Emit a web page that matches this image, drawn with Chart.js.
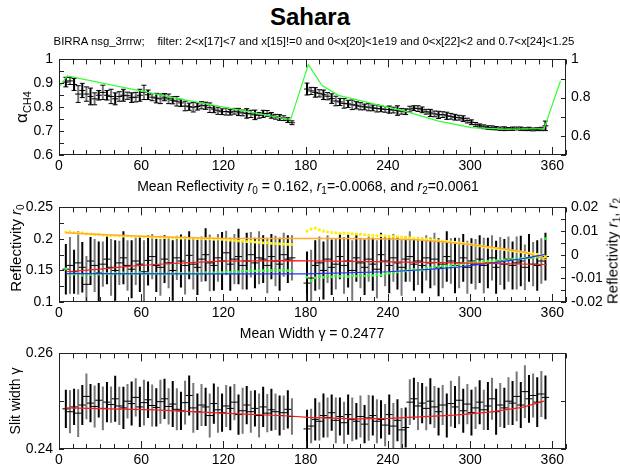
<!DOCTYPE html>
<html><head><meta charset="utf-8">
<script src="https://cdn.jsdelivr.net/npm/chart.js@4.4.0/dist/chart.umd.min.js"></script>
<style>
html,body{margin:0;padding:0;background:#fff;}
body{width:620px;height:465px;position:relative;overflow:hidden;font-family:"Liberation Sans",Arial,Helvetica,sans-serif;color:#000;}
canvas{position:absolute;left:0;}
.t{position:absolute;white-space:nowrap;line-height:1;}
.c{transform:translate(-50%,-50%);}
.r{transform:translate(-50%,-50%) rotate(-90deg);}
sub{font-size:10px;vertical-align:-3px;line-height:0;}
</style></head><body>
<canvas id="c1" width="620" height="130" style="top:45px"></canvas>
<canvas id="c2" width="620" height="127" style="top:193px"></canvas>
<canvas id="c3" width="620" height="126" style="top:339px"></canvas>
<div class="t c" style="left:310px;top:17px;font-size:24px;font-weight:bold;">Sahara</div>
<div class="t c" style="left:314px;top:42px;font-size:11.4px;">BIRRA nsg_3rrrw;&nbsp;&nbsp;&nbsp; filter: 2&lt;x[17]&lt;7 and x[15]!=0 and 0&lt;x[20]&lt;1e19 and 0&lt;x[22]&lt;2 and 0.7&lt;x[24]&lt;1.25</div>
<div class="t c" style="left:308px;top:186px;font-size:14px;">Mean Reflectivity <i>r</i><sub>0</sub> = 0.162, <i>r</i><sub>1</sub>=-0.0068, and <i>r</i><sub>2</sub>=0.0061</div>
<div class="t c" style="left:312px;top:333px;font-size:14px;">Mean Width γ = 0.2477</div>
<div class="t r" style="left:21px;top:107px;"><span style="font-size:17px">α</span><sub style="font-size:11px;vertical-align:-4px">CH4</sub></div>
<div class="t r" style="left:15px;top:248px;font-size:15px;">Reflectivity <i>r</i><sub>0</sub></div>
<div class="t r" style="left:612px;top:251px;font-size:15px;">Reflectivity <i>r</i><sub>1</sub>, <i>r</i><sub>2</sub></div>
<div class="t r" style="left:15px;top:401px;font-size:14px;">Slit width γ</div>
<script>
// ---------- data ----------
const LON = [5,8,11,14,17,20,23,26,29,32,35,38,41,44,47,50,53,56,59,62,65,68,71,74,77,80,83,86,89,92,95,98,101,104,107,110,113,116,119,122,125,128,131,134,137,140,143,146,149,152,155,158,161,164,167,170,
181,184,187,190,193,196,199,202,205,208,211,214,217,220,223,226,229,232,235,238,241,244,247,250,253,256,259,262,265,268,271,274,277,280,283,286,289,292,295,298,301,304,307,310,313,316,319,322,325,328,331,334,337,340,343,346,349,352,355];

const ALPHA = [.905,.910,.895,.855,.870,.855,.845,.835,.850,.862,.850,.845,.835,.845,.850,.848,.840,.842,.850,.862,.852,.842,.838,.835,.842,.835,.829,.825,.818,.805,.802,.800,.803,.808,.806,.798,.792,.785,.781,.782,.779,.783,.780,.776,.774,.772,.768,.766,.772,.774,.766,.760,.757,.754,.746,.735,
.876,.868,.862,.858,.852,.846,.836,.826,.822,.816,.814,.810,.808,.804,.801,.800,.797,.795,.793,.791,.790,.788,.786,.783,.781,.792,.796,.794,.789,.781,.776,.772,.768,.769,.764,.762,.758,.756,.752,.744,.737,.728,.722,.718,.715,.714,.712,.710,.710,.709,.710,.711,.710,.708,.709,.707,.708,.709,.722];
const ALPHA_ERR = [.02,.015,.025,.035,.03,.03,.035,.025,.02,.03,.02,.03,.025,.02,.025,.015,.02,.02,.025,.03,.02,.015,.02,.02,.015,.02,.015,.02,.015,.02,.015,.02,.015,.015,.015,.02,.015,.015,.012,.015,.012,.012,.015,.012,.02,.015,.02,.012,.015,.012,.012,.01,.012,.01,.01,.008,
.025,.015,.02,.015,.02,.015,.02,.02,.015,.02,.015,.02,.015,.015,.012,.015,.012,.015,.012,.012,.015,.012,.02,.012,.012,.012,.01,.012,.012,.01,.015,.012,.015,.012,.015,.012,.012,.01,.012,.01,.01,.008,.008,.008,.007,.008,.007,.007,.008,.006,.007,.006,.007,.006,.007,.006,.006,.007,.02];
const MODEL_LON = [0,6,87,169,182,192,204,228,253,277,301,326,354,366];
const MODEL_ALPHA = [.855,.914,.795,.685,.973,.863,.812,.770,.728,.677,.643,.635,.638,.888];

const R0 = [.152,.158,.148,.162,.155,.128,.165,.158,.146,.160,.168,.155,.150,.162,.170,.158,.152,.165,.160,.148,.166,.172,.158,.155,.168,.162,.150,.170,.165,.158,.174,.160,.155,.168,.175,.162,.158,.170,.165,.178,.160,.168,.172,.158,.165,.175,.162,.170,.168,.158,.172,.165,.160,.175,.168,.170,
.130,.138,.158,.162,.150,.168,.155,.160,.172,.158,.165,.150,.170,.162,.155,.168,.160,.152,.175,.165,.158,.170,.162,.155,.168,.172,.160,.165,.158,.170,.162,.168,.155,.160,.172,.165,.158,.162,.170,.155,.165,.160,.168,.158,.162,.170,.155,.165,.160,.168,.158,.162,.165,.155,.170,.160,.158,.165,.172];
const R0_ERR = [.04,.045,.035,.05,.04,.045,.038,.042,.05,.036,.04,.045,.048,.035,.042,.04,.046,.038,.044,.05,.04,.036,.042,.045,.038,.04,.048,.035,.042,.046,.038,.04,.044,.036,.042,.045,.04,.038,.046,.035,.042,.04,.044,.038,.045,.036,.04,.042,.038,.044,.036,.04,.042,.035,.038,.036,
.05,.045,.04,.042,.046,.038,.044,.04,.036,.045,.042,.048,.038,.04,.044,.036,.042,.046,.035,.04,.044,.038,.042,.045,.036,.04,.042,.038,.044,.036,.04,.042,.046,.038,.04,.036,.044,.04,.038,.042,.036,.04,.038,.044,.04,.036,.042,.038,.04,.036,.038,.042,.04,.036,.038,.035,.04,.036,.038];
const R1 = [-.0060,-.0085,-.0082,-.0078,-.0088,-.0080,-.0084,-.0079,-.0082,-.0076,-.0080,-.0083,-.0078,-.0081,-.0077,-.0082,-.0079,-.0080,-.0076,-.0083,-.0078,-.0081,-.0079,-.0077,-.0082,-.0078,-.0080,-.0076,-.0079,-.0081,-.0077,-.0080,-.0078,-.0082,-.0076,-.0079,-.0077,-.0074,-.0076,-.0072,-.0075,-.0071,-.0073,-.0069,-.0070,-.0067,-.0069,-.0066,-.0068,-.0065,-.0067,-.0064,-.0066,-.0065,-.0067,-.0068,
-.0095,-.0110,-.0098,-.0092,-.0096,-.0090,-.0094,-.0088,-.0092,-.0089,-.0093,-.0088,-.0091,-.0087,-.0090,-.0086,-.0088,-.0084,-.0085,-.0080,-.0078,-.0075,-.0073,-.0070,-.0068,-.0066,-.0063,-.0064,-.0064,-.0058,-.0056,-.0053,-.0051,-.0048,-.0047,-.0046,-.0046,-.0040,-.0038,-.0036,-.0034,-.0033,-.0031,-.0030,-.0028,-.0027,-.0025,-.0024,-.0022,-.0021,-.0019,-.0018,-.0016,-.0015,-.0013,-.0012,-.0010,-.0008,.0068];
const R2 = [.0095,.0098,.0093,.0090,.0092,.0088,.0087,.0085,.0086,.0083,.0082,.0080,.0081,.0079,.0078,.0079,.0077,.0076,.0077,.0075,.0076,.0074,.0073,.0075,.0072,.0073,.0071,.0072,.0070,.0071,.0069,.0070,.0068,.0069,.0067,.0068,.0066,.0067,.0065,.0064,.0062,.0060,.0058,.0057,.0055,.0056,.0053,.0052,.0050,.0051,.0048,.0047,.0046,.0045,.0044,.0043,
.0100,.0108,.0112,.0105,.0100,.0096,.0094,.0092,.0090,.0091,.0089,.0088,.0087,.0086,.0084,.0083,.0082,.0080,.0081,.0079,.0078,.0077,.0075,.0074,.0072,.0071,.0069,.0068,.0067,.0066,.0064,.0062,.0060,.0058,.0056,.0054,.0052,.0050,.0048,.0046,.0043,.0040,.0037,.0033,.0031,.0029,.0026,.0024,.0021,.0019,.0016,.0014,.0012,.0009,.0007,.0004,.0002,-.0002,-.0008];
const R0_FIT_LON = [5,30,50,70,95,119,168,241,289,356];
const R0_FIT = [.148,.152,.1565,.1595,.1625,.1647,.1657,.1636,.1621,.1595];
const R1_FIT_LON = [5,100,180,240,270,289,300,322,340,354];
const R1_FIT = [-.0080,-.0081,-.0081,-.0072,-.0062,-.0054,-.0046,-.0030,-.0015,.0000];
const R2_FIT_LON = [5,30,60,90,120,150,180,210,240,260,280,300,320,340,356];
const R2_FIT = [.0093,.0085,.0078,.0073,.0069,.0068,.0068,.0068,.0066,.0063,.0055,.0043,.0028,.0010,-.0022];

const GAMMA = [.2484,.2478,.2488,.2475,.2492,.2510,.2496,.2489,.2502,.2485,.2498,.2493,.2505,.2490,.2486,.2500,.2495,.2508,.2488,.2497,.2503,.2491,.2487,.2499,.2505,.2489,.2494,.2483,.2480,.2497,.2512,.2486,.2478,.2492,.2488,.2470,.2495,.2482,.2476,.2490,.2485,.2498,.2472,.2480,.2492,.2478,.2485,.2470,.2488,.2475,.2482,.2478,.2470,.2476,.2483,.2468,
.2442,.2448,.2462,.2458,.2470,.2466,.2476,.2460,.2468,.2455,.2472,.2462,.2458,.2468,.2452,.2465,.2470,.2458,.2462,.2450,.2472,.2448,.2460,.2440,.2445,.2498,.2505,.2490,.2496,.2485,.2500,.2488,.2478,.2492,.2470,.2495,.2488,.2502,.2480,.2494,.2476,.2486,.2498,.2482,.2490,.2505,.2478,.2492,.2486,.2500,.2496,.2510,.2492,.2520,.2505,.2512,.2498,.2515,.2508];
const GAMMA_ERR = [.004,.0045,.0038,.005,.0042,.0048,.004,.0044,.0036,.0046,.0042,.0038,.0048,.004,.0044,.0036,.0046,.004,.0042,.0048,.0038,.0044,.004,.0046,.0042,.0038,.0048,.0044,.004,.0046,.0042,.0052,.0038,.0044,.004,.0046,.0042,.0048,.004,.0044,.0046,.0038,.0042,.0048,.004,.0044,.0038,.0046,.0042,.004,.0044,.0038,.0042,.0036,.004,.0038,
.004,.0036,.0044,.004,.0046,.0042,.0038,.0048,.004,.0044,.0042,.0046,.0038,.0044,.004,.0048,.0042,.0046,.004,.0044,.0042,.0048,.0044,.0046,.0042,.0048,.0044,.005,.0042,.0046,.0048,.0044,.005,.0042,.0046,.0048,.0044,.005,.0046,.0042,.0048,.0044,.0046,.0042,.005,.0044,.0048,.0046,.0042,.005,.0046,.0052,.0048,.0055,.005,.0046,.0052,.0048,.0046];
const GAMMA_FIT_LON = [5,70,119,168,182,216,241,289,314,338,354];
const GAMMA_FIT = [.2486,.2482,.2475,.2469,.2466,.2463,.2464,.2471,.2477,.2487,.2500];

// ---------- helpers ----------
const pairs = (xs, ys) => xs.map((x, i) => ({x, y: ys[i]}));
const bars = (v, e, par) => LON.map((x, i) => ({x, y: [v[i] - e[i], v[i] + e[i]]})).filter((_, i) => i % 2 === par);
const capPts = (v, e) => LON.flatMap((x, i) => [{x, y: v[i] - e[i]}, {x, y: v[i] + e[i]}]);

Chart.defaults.font.family = '"Liberation Sans", Arial, Helvetica, sans-serif';
Chart.defaults.font.size = 14;
Chart.defaults.color = '#000';

const frameTicks = {
  id: 'frameTicks',
  afterDatasetsDraw(chart) {
    const {ctx, chartArea: a, scales} = chart;
    ctx.save();
    ctx.strokeStyle = '#222';
    ctx.lineWidth = 1;
    ctx.beginPath();
    const X = scales.x;
    X.ticks.forEach(t => {
      const p = Math.round(X.getPixelForValue(t.value)) + 0.5;
      const len = (Math.round(t.value) % 60 === 0) ? 8 : 5;
      ctx.moveTo(p, a.bottom); ctx.lineTo(p, a.bottom - len);
      ctx.moveTo(p, a.top); ctx.lineTo(p, a.top + len);
    });
    const Y = scales.y;
    Y.ticks.forEach(t => {
      const p = Math.round(Y.getPixelForValue(t.value)) + 0.5;
      ctx.moveTo(a.left, p); ctx.lineTo(a.left + 5, p);
    });
    const Y2 = scales.y2;
    Y2.ticks.forEach(t => {
      const p = Math.round(Y2.getPixelForValue(t.value)) + 0.5;
      ctx.moveTo(a.right, p); ctx.lineTo(a.right - 5, p);
    });
    ctx.stroke();
    ctx.strokeRect(Math.round(a.left) + 0.5, Math.round(a.top) + 0.5, Math.round(a.width) - 1, Math.round(a.height) - 1);
    ctx.restore();
  }
};

function xScale(h, pad) {
  return {
    type: 'linear', min: 0, max: 370, offset: false,
    grid: {display: false, drawTicks: false}, border: {display: false},
    ticks: {stepSize: 10, autoSkip: false, maxRotation: 0, minRotation: 0, padding: pad,
      callback: v => (Math.round(v) % 60 === 0 && v <= 360) ? String(Math.round(v)) : ''},
    afterFit: s => { s.height = h; }
  };
}
function yScale(pos, min, max, step, cb) {
  return {
    type: 'linear', position: pos, min, max, offset: false,
    grid: {display: false, drawTicks: false}, border: {display: false},
    ticks: {stepSize: step, autoSkip: false, padding: pos === 'left' ? 6 : 5, callback: cb},
    afterFit: s => { s.width = pos === 'left' ? 59 : 54; }
  };
}
function baseOptions(scales) {
  return {
    responsive: false, devicePixelRatio: 1, animation: false, events: [],
    layout: {padding: {top: 12, left: 0, right: 0, bottom: 0}},
    plugins: {legend: {display: false}, tooltip: {enabled: false}},
    scales
  };
}
const barDs = (data, color, axis, order, w) => ({type: 'bar', data, backgroundColor: color, borderWidth: 0,
  barThickness: w, grouped: false, inflateAmount: 0, yAxisID: axis, order});
const dashDs = (data, r, axis, order) => ({data, pointStyle: 'line', pointRadius: r, pointBorderColor: '#000',
  pointBackgroundColor: '#000', pointBorderWidth: 1, yAxisID: axis, order});
const lineDs = (data, color, w, axis, order) => ({type: 'line', data, borderColor: color, borderWidth: w,
  pointRadius: 0, tension: 0, fill: false, yAxisID: axis, order});
const dotDs = (data, color, axis, order) => ({data, pointStyle: 'rect', pointRadius: 1.9, pointBorderWidth: 0,
  pointBackgroundColor: color, pointBorderColor: color, yAxisID: axis, order});

// ---------- panel 1 ----------
new Chart(document.getElementById('c1'), {
  type: 'scatter',
  data: {datasets: [
    lineDs(pairs(MODEL_LON, MODEL_ALPHA), '#33ff33', 1.2, 'y2', 0),
    dashDs(pairs(LON, ALPHA), 3, 'y', 1),
    dashDs(capPts(ALPHA, ALPHA_ERR), 2.5, 'y', 2),
    barDs(bars(ALPHA, ALPHA_ERR, 0), '#000', 'y', 3, 2),
    barDs(bars(ALPHA, ALPHA_ERR, 1), '#777', 'y', 4, 2)
  ]},
  options: baseOptions({
    x: xScale(20, 3),
    y: yScale('left', 0.6, 1, 0.05, v => { const k = Math.round(v * 100); return k % 10 === 0 ? (k === 100 ? '1' : String(k / 100)) : ''; }),
    y2: yScale('right', 0.5, 1, 0.1, v => { const k = Math.round(v * 10); return (k % 2 === 0 && k >= 6) ? (k === 10 ? '1' : String(k / 10)) : ''; })
  }),
  plugins: [frameTicks]
});

// ---------- panel 2 ----------
new Chart(document.getElementById('c2'), {
  type: 'scatter',
  data: {datasets: [
    lineDs(pairs(R0_FIT_LON, R0_FIT), '#ff1a1a', 1.2, 'y', 0),
    lineDs(pairs(R1_FIT_LON, R1_FIT), '#2233ff', 1.2, 'y2', 0),
    lineDs(pairs(R2_FIT_LON, R2_FIT), '#ffaa33', 1.5, 'y2', 0),
    dotDs(pairs(LON, R2), '#ffee00', 'y2', 1),
    dotDs(pairs(LON, R1), '#33ee33', 'y2', 1),
    dashDs(pairs(LON, R0), 3.5, 'y', 2),
    barDs(bars(R0, R0_ERR, 0), '#000', 'y', 3, 2),
    barDs(bars(R0, R0_ERR, 1), '#777', 'y', 4, 2)
  ]},
  options: baseOptions({
    x: xScale(18, 3),
    y: yScale('left', 0.1, 0.25, 0.025, v => { const k = Math.round(v * 1000); return k % 50 === 0 ? String(k / 1000) : ''; }),
    y2: yScale('right', -0.02, 0.02, 0.005, v => { const k = Math.round(v * 1000); return k % 10 === 0 ? String((k / 1000) || 0) : ''; })
  }),
  plugins: [frameTicks]
});

// ---------- panel 3 ----------
new Chart(document.getElementById('c3'), {
  type: 'scatter',
  data: {datasets: [
    lineDs(pairs(GAMMA_FIT_LON, GAMMA_FIT), '#ff1a1a', 1.2, 'y', 0),
    dashDs(pairs(LON, GAMMA), 3.5, 'y', 1),
    barDs(bars(GAMMA, GAMMA_ERR, 0), '#000', 'y', 2, 2),
    barDs(bars(GAMMA, GAMMA_ERR, 1), '#777', 'y', 3, 2)
  ]},
  options: baseOptions({
    x: xScale(16, 3),
    y: yScale('left', 0.24, 0.26, 0.01, v => { const k = Math.round(v * 100); return k === 25 ? '' : String(k / 100); }),
    y2: yScale('right', 0.24, 0.26, 0.01, v => '')
  }),
  plugins: [frameTicks]
});
</script>
</body></html>
